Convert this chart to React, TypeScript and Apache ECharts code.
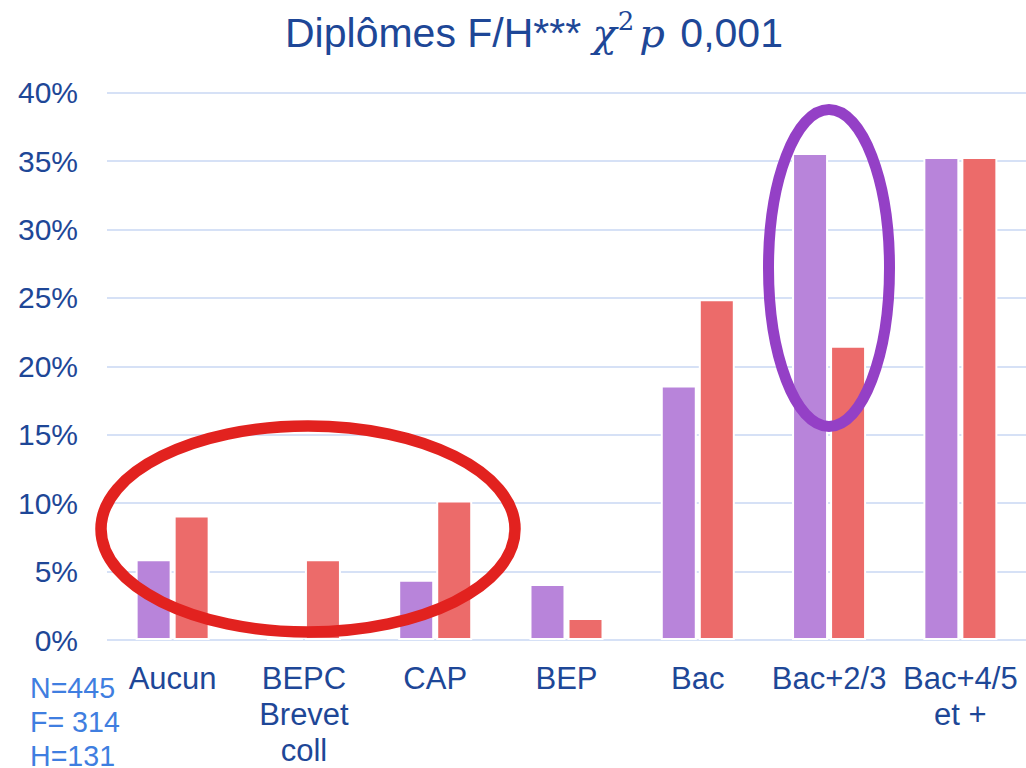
import React, { useEffect, useRef } from "react";
import * as echarts from "echarts";

const categories = ["Aucun", "BEPC\nBrevet\ncoll", "CAP", "BEP", "Bac", "Bac+2/3", "Bac+4/5\net +"];
const femmes = [5.9, 0.3, 4.4, 4.1, 18.6, 35.6, 35.3];
const hommes = [9.1, 5.9, 10.2, 1.6, 24.9, 21.5, 35.3];
const yTicks = { min: 0, max: 40, interval: 5 };
const sampleLines = ["N=445", "F= 314", "H=131"];

const DARK_BLUE = "#1e4797";
const PURPLE = "#b884da";
const RED = "#ec6b6a";

export default function App() {
  const ref = useRef<HTMLDivElement>(null);
  useEffect(() => {
    if (!ref.current) return;
    const chart = echarts.init(ref.current, undefined, { renderer: "svg" });
    const font = "'Liberation Sans', Arial, sans-serif";
    const serif = "'DejaVu Serif', 'Liberation Serif', serif";
    chart.setOption({
      animation: false,
      backgroundColor: "#ffffff",
      title: {
        text: "{a|Diplômes F/H*** }{m|χ}{s|2}{p|p}{a| 0,001}",
        left: 280,
        top: 3,
        textStyle: {
          fontFamily: font,
          fontSize: 41,
          color: DARK_BLUE,
          fontWeight: "normal",
          rich: {
            a: { fontFamily: font, fontSize: 41, color: DARK_BLUE, lineHeight: 50 },
            m: {
              fontFamily: serif,
              fontStyle: "italic",
              fontSize: 40,
              color: DARK_BLUE,
              lineHeight: 50,
            },
            p: {
              fontFamily: serif,
              fontStyle: "italic",
              fontSize: 40,
              color: DARK_BLUE,
              lineHeight: 50,
              padding: [0, 4, 0, 0],
            },
            s: {
              fontFamily: serif,
              fontSize: 26,
              color: DARK_BLUE,
              verticalAlign: "top",
              lineHeight: 30,
              padding: [0, 5, 0, 1],
            },
          },
        },
      },
      grid: { left: 107, top: 92.7, width: 920.5, height: 548, containLabel: false },
      xAxis: {
        type: "category",
        data: categories,
        axisLine: { show: false },
        axisTick: { show: false },
        axisLabel: {
          interval: 0,
          margin: 20,
          fontFamily: font,
          fontSize: 31,
          lineHeight: 36,
          color: DARK_BLUE,
          align: "center",
        },
      },
      yAxis: {
        type: "value",
        min: yTicks.min,
        max: yTicks.max,
        interval: yTicks.interval,
        axisLine: { show: false },
        axisTick: { show: false },
        axisLabel: {
          formatter: "{value}%",
          margin: 29,
          fontFamily: font,
          fontSize: 30,
          color: DARK_BLUE,
        },
        splitLine: { lineStyle: { color: "#d6e1f6", width: 2 } },
      },
      series: [
        {
          name: "F",
          type: "bar",
          data: femmes,
          barWidth: 36,
          barGap: "5.6%",
          itemStyle: { color: PURPLE, borderColor: "#ffffff", borderWidth: 2 },
        },
        {
          name: "H",
          type: "bar",
          data: hommes,
          barWidth: 36,
          barGap: "5.6%",
          itemStyle: { color: RED, borderColor: "#ffffff", borderWidth: 2 },
        },
      ],
      graphic: [
        {
          type: "ellipse",
          z: 100,
          shape: { cx: 308, cy: 529, rx: 207, ry: 103 },
          style: { fill: "none", stroke: "#e2221f", lineWidth: 11.5 },
        },
        {
          type: "ellipse",
          z: 100,
          shape: { cx: 829, cy: 268, rx: 60.5, ry: 158.5 },
          style: { fill: "none", stroke: "#9440c6", lineWidth: 11 },
        },
        ...sampleLines.map((t, i) => ({
          type: "text",
          z: 100,
          x: 30,
          y: 688 + i * 34,
          style: {
            text: t,
            fontFamily: font,
            fontSize: 28.6,
            lineHeight: 20,
            fill: "#3f7ee0",
            textAlign: "left",
            textVerticalAlign: "middle",
          },
        })),
      ],
    });
    return () => chart.dispose();
  }, []);
  return (
    <div
      ref={ref}
      style={{ position: "absolute", left: 0, top: 0, width: 1026, height: 768 }}
    />
  );
}
